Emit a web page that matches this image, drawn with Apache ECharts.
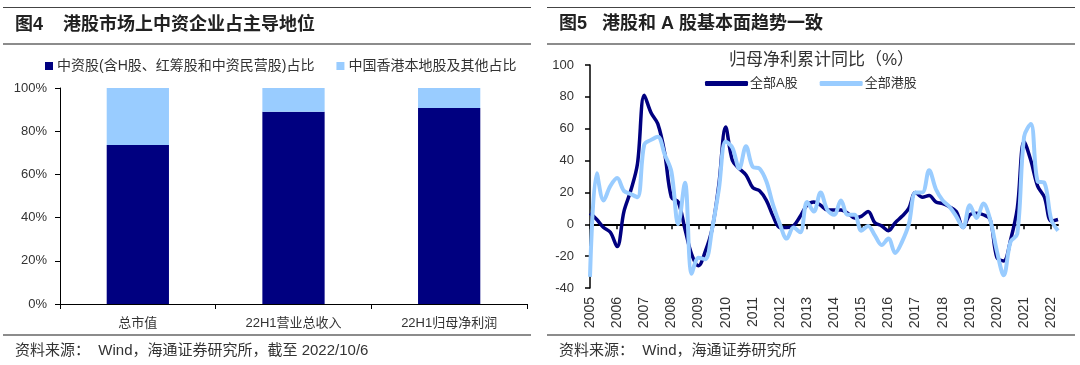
<!DOCTYPE html>
<html><head><meta charset="utf-8">
<script src="https://cdn.jsdelivr.net/npm/echarts@6/dist/echarts.min.js"></script>
<style>html,body{margin:0;padding:0;background:#fff}#c{width:1080px;height:365px}</style>
</head><body><div id="c"></div>
<script>
// ---- Left chart data ----
const barCategories = ['总市值', '22H1营业总收入', '22H1归母净利润'];
const chinaShare = [73.6, 89.0, 90.7];
const hkShare = [26.4, 11.0, 9.3];
const barSeriesNames = ['中资股(含H股、红筹股和中资民营股)占比', '中国香港本地股及其他占比'];

// ---- Right chart data (quarterly, 2005Q1 - 2022Q2) ----
const years = ['2005','2006','2007','2008','2009','2010','2011','2012','2013','2014','2015','2016','2017','2018','2019','2020','2021','2022'];
const lineSeriesNames = ['全部A股', '全部港股'];
const aShare = [7,3,-2,-5, -14,8,21,38, 81,70,63,45, 17,14,-3,-19, -26,-17,-3,25, 61,40,35,31,
  23,21,15,5, -2,-2,-1,5, 12,14,12,9, 9,9,7,4, 5,8,1,-1, -4,1,5,10,
  20,17,18,14, 13,11,8,-2, 6,7,6,3, -21,-23,-10,10, 52,40,24,17, 2,3];
const hkAll = [-33,32,15,24, 29,21,19,17, 50,53,55,44, 33,0,26,-31, -21,-22,-3,22, 52,48,35,49,
  36,35,27,12, 0,-9,-2,-5, 14,8,20,9, 6,15,6,6, -4,-1,-7,-13, -9,-18,-11,0,
  20,20,34,22, 15,11,5,-2, 12,4,13,3, -17,-32,-11,-6, 55,63,27,26, 3,-4];

const quarters = [];
years.forEach(y => { for (let q = 1; q <= 4; q++) quarters.push(y + 'Q' + q); });
const qCats = quarters.slice(0, aShare.length);

const NAVY = '#000080', LIGHT = '#99CCFF';
const FONT = '"Liberation Sans", "Noto Sans CJK SC", sans-serif';
const TXT = '#333';

const chart = echarts.init(document.getElementById('c'));
chart.setOption({
  animation: false,
  textStyle: { fontFamily: FONT },
  graphic: [
    { type: 'line', shape: { x1: 3, y1: 7.5, x2: 531, y2: 7.5 }, style: { stroke: '#444', lineWidth: 1 } },
    { type: 'line', shape: { x1: 3, y1: 44, x2: 531, y2: 44 }, style: { stroke: '#666', lineWidth: 1.5 } },
    { type: 'line', shape: { x1: 3, y1: 335, x2: 531, y2: 335 }, style: { stroke: '#666', lineWidth: 1.5 } },
    { type: 'line', shape: { x1: 547, y1: 7.5, x2: 1075, y2: 7.5 }, style: { stroke: '#444', lineWidth: 1 } },
    { type: 'line', shape: { x1: 547, y1: 44, x2: 1075, y2: 44 }, style: { stroke: '#666', lineWidth: 1.5 } },
    { type: 'line', shape: { x1: 547, y1: 335, x2: 1075, y2: 335 }, style: { stroke: '#666', lineWidth: 1.5 } },
    { type: 'text', left: 15, top: 16, style: { text: '图4    港股市场上中资企业占主导地位', font: 'bold 18px ' + FONT, fill: '#222' } },
    { type: 'text', left: 559, top: 15, style: { text: '图5   港股和 A 股基本面趋势一致', font: 'bold 18px ' + FONT, fill: '#222' } },
    { type: 'text', left: 15, top: 343, style: { text: '资料来源：  Wind，海通证券研究所，截至 2022/10/6', font: '15px ' + FONT, fill: TXT } },
    { type: 'text', left: 559, top: 343, style: { text: '资料来源：  Wind，海通证券研究所', font: '15px ' + FONT, fill: TXT } },
    { type: 'text', left: 729, top: 52, style: { text: '归母净利累计同比（%）', font: '17px ' + FONT, fill: TXT } }
  ],
  legend: [
    { data: barSeriesNames, left: 40, top: 54, itemWidth: 8, itemHeight: 8, itemGap: 22, icon: 'rect',
      textStyle: { fontSize: 14, color: TXT, padding: [0, 0, 0, -1] } },
    { data: lineSeriesNames, left: 700, top: 72, itemWidth: 43, itemHeight: 5, itemGap: 22, icon: 'roundRect',
      textStyle: { fontSize: 13, color: TXT, padding: [0, 0, 0, -3] } }
  ],
  grid: [
    { left: 60, top: 88, width: 467, height: 216 },
    { left: 590, top: 65, width: 468, height: 223 }
  ],
  xAxis: [
    { gridIndex: 0, type: 'category', data: barCategories,
      axisLine: { lineStyle: { color: '#000', width: 1 } },
      axisTick: { show: true, length: 5, lineStyle: { color: '#000' } },
      axisLabel: { fontSize: 13, color: TXT, margin: 13 } },
    { gridIndex: 1, type: 'category', data: qCats, boundaryGap: false, position: 'bottom',
      axisLine: { show: false, onZero: false }, axisTick: { show: false },
      axisLabel: { rotate: 90, fontSize: 14, color: TXT, margin: 9,
        interval: (i) => i % 4 === 0, formatter: (v) => v.slice(0, 4) } },
    { gridIndex: 1, type: 'category', data: qCats, boundaryGap: false, position: 'bottom',
      axisLine: { show: true, onZero: true, lineStyle: { color: '#000', width: 2 } },
      axisTick: { show: true, length: 5, interval: (i) => i % 4 === 0, lineStyle: { color: '#000', width: 1.5 } },
      axisLabel: { show: false } }
  ],
  yAxis: [
    { gridIndex: 0, type: 'value', min: 0, max: 100, interval: 20,
      axisLine: { show: true, lineStyle: { color: '#000', width: 1 } },
      axisTick: { show: true, length: 5, lineStyle: { color: '#000' } },
      splitLine: { show: false },
      axisLabel: { formatter: '{value}%', fontSize: 13, color: TXT, margin: 13 } },
    { gridIndex: 1, type: 'value', min: -40, max: 100, interval: 20,
      axisLine: { show: true, lineStyle: { color: '#000', width: 1.5 } },
      axisTick: { show: true, length: 5, lineStyle: { color: '#000', width: 1.5 } },
      splitLine: { show: false },
      axisLabel: { fontSize: 13, color: TXT, margin: 16 } }
  ],
  series: [
    { name: barSeriesNames[0], type: 'bar', stack: 'a', xAxisIndex: 0, yAxisIndex: 0,
      barWidth: '40%', data: chinaShare, itemStyle: { color: NAVY } },
    { name: barSeriesNames[1], type: 'bar', stack: 'a', xAxisIndex: 0, yAxisIndex: 0,
      barWidth: '40%', data: hkShare, itemStyle: { color: LIGHT } },
    { name: lineSeriesNames[0], type: 'line', xAxisIndex: 1, yAxisIndex: 1, data: aShare,
      smooth: 0.35, showSymbol: false, z: 3, itemStyle: { color: NAVY },
      lineStyle: { color: NAVY, width: 3.5 } },
    { name: lineSeriesNames[1], type: 'line', xAxisIndex: 1, yAxisIndex: 1, data: hkAll,
      smooth: 0.35, showSymbol: false, z: 4, itemStyle: { color: LIGHT },
      lineStyle: { color: LIGHT, width: 4 } }
  ]
});
</script></body></html>
